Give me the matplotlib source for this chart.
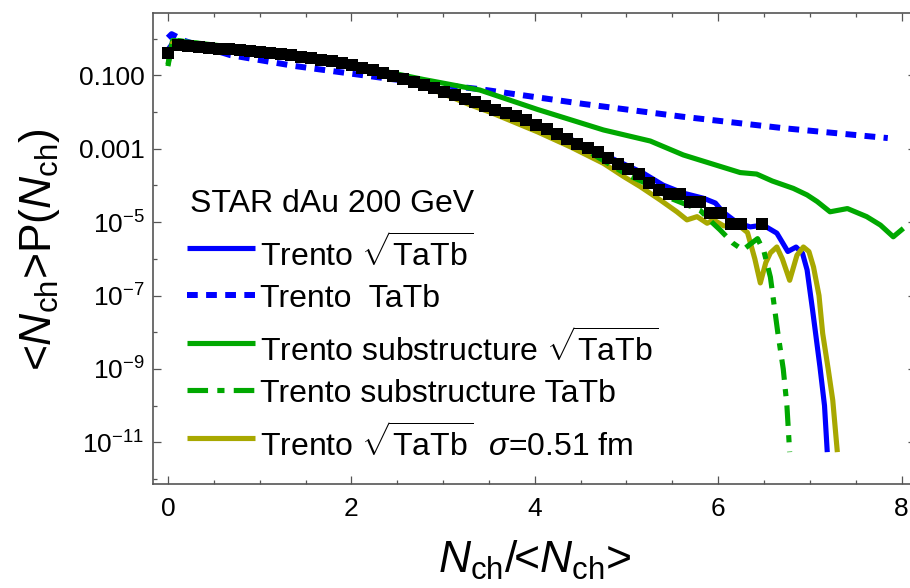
import matplotlib
matplotlib.use("Agg")
import numpy as np
import matplotlib.pyplot as plt
from matplotlib.ticker import FixedLocator, FixedFormatter, NullFormatter

plt.rcParams["font.family"] = ["Liberation Sans", "DejaVu Sans"]
plt.rcParams["mathtext.fontset"] = "custom"
plt.rcParams["mathtext.rm"] = "Liberation Sans"
plt.rcParams["mathtext.it"] = "Liberation Sans:italic"
plt.rcParams["mathtext.bf"] = "Liberation Sans:bold"

# STAR dAu 200 GeV multiplicity distribution
mean_nch = 8.96
nch_star = list(range(57)) + [58]
p_star = [0.417, 0.676, 0.631, 0.589, 0.562, 0.537, 0.513, 0.490, 0.457, 0.437,
          0.407, 0.380, 0.355, 0.324, 0.295, 0.269, 0.240, 0.214, 0.191, 0.162,
          0.138, 0.117, 0.0977, 0.0813, 0.0676, 0.0550, 0.0447, 0.0355, 0.0282, 0.0229,
          0.0186, 0.0145, 0.0117, 0.00955, 0.00759, 0.00589, 0.00447, 0.00339, 0.00251, 0.00186,
          0.00138, 0.00105, 7.9e-4, 5.5e-4, 3.8e-4, 2.75e-4, 2.0e-4, 1.17e-4, 7.6e-5, 6.0e-5,
          6.0e-5, 3.6e-5, 3.6e-5, 1.8e-5, 1.8e-5, 9.1e-6, 9.1e-6, 9.1e-6]

# Trento sqrt(TaTb)
x_sqrt = [0.00, 0.05, 0.30, 1.00, 1.50, 2.00, 2.50, 3.00, 3.50, 4.00, 4.50, 5.00, 5.18,
          5.40, 5.62, 5.84, 5.97, 6.05, 6.21, 6.35, 6.49, 6.64, 6.70, 6.76, 6.85, 6.92,
          6.97, 7.03, 7.11, 7.16, 7.19]
p_sqrt = [0.501, 0.741, 0.617, 0.427, 0.316, 0.195, 0.0912, 0.0363, 0.0138, 0.00479,
          0.00138, 3.55e-4, 2.19e-4, 1.02e-4, 6.17e-5, 4.47e-5, 3.31e-5, 1.91e-5, 9.55e-6,
          7.41e-6, 8.32e-6, 5.01e-6, 2.82e-6, 1.58e-6, 2.09e-6, 1.41e-6, 5.0e-7, 4.0e-8,
          1.15e-9, 1.0e-10, 5.4e-12]

# Trento TaTb
x_tatb = [0.00, 0.04, 0.19, 0.68, 1.39, 2.43, 3.41, 4.53, 5.62, 6.71, 7.85]
p_tatb = [1.05, 1.32, 0.85, 0.355, 0.178, 0.0794, 0.0417, 0.0166, 0.00741, 0.00363, 0.00195]

# Trento substructure sqrt(TaTb)
x_sub_sqrt = [0.00, 0.05, 0.35, 0.80, 1.34, 1.80, 2.24, 2.78, 3.40, 4.03, 4.75, 5.26, 5.62,
              5.80, 6.24, 6.42, 6.59, 6.82, 6.97, 7.08, 7.22, 7.41, 7.62, 7.77, 7.91, 8.02]
p_sub_sqrt = [0.178, 0.891, 0.741, 0.550, 0.398, 0.263, 0.148, 0.0776, 0.0398, 0.01175,
              0.00324, 0.00162, 6.76e-4, 4.90e-4, 2.24e-4, 2.04e-4, 1.32e-4, 8.3e-5, 5.5e-5,
              3.63e-5, 1.91e-5, 2.34e-5, 1.41e-5, 8.3e-6, 3.98e-6, 6.76e-6]

# Trento substructure TaTb
x_sub_tatb = [0.00, 0.05, 0.30, 0.70, 1.00, 1.50, 2.00, 2.50, 3.00, 3.50, 4.00, 4.50, 5.00,
              5.26, 5.48, 5.80, 5.93, 6.02, 6.16, 6.27, 6.35, 6.43, 6.50, 6.57, 6.65, 6.71,
              6.75, 6.78]
p_sub_tatb = [0.200, 0.933, 0.759, 0.550, 0.447, 0.316, 0.195, 0.0955, 0.0363, 0.0132,
              0.00437, 0.00112, 2.0e-4, 1.0e-4, 4.47e-5, 2.14e-5, 1.0e-5, 6.17e-6, 2.69e-6,
              1.74e-6, 2.51e-6, 3.55e-6, 1.58e-6, 3.16e-7, 1.0e-8, 1.0e-9, 1.0e-10, 5.4e-12]

# Trento sqrt(TaTb), sigma = 0.51 fm
x_sigma = [0.00, 0.05, 0.20, 0.50, 1.00, 1.50, 2.00, 2.50, 3.00, 3.30, 3.50, 4.03, 4.39,
           4.75, 4.97, 5.15, 5.37, 5.55, 5.66, 5.77, 5.88, 5.95, 6.06, 6.24, 6.32, 6.40,
           6.46, 6.52, 6.57, 6.64, 6.70, 6.78, 6.86, 6.93, 6.99, 7.04, 7.10, 7.14, 7.20,
           7.25, 7.30]
p_sigma = [0.282, 0.759, 0.676, 0.537, 0.417, 0.302, 0.191, 0.0912, 0.0316, 0.0155,
           0.0102, 0.00288, 0.00112, 3.98e-4, 1.74e-4, 9.3e-5, 3.98e-5, 1.91e-5, 1.15e-5,
           1.41e-5, 9.3e-6, 1.15e-5, 7.9e-6, 7.6e-6, 5.2e-6, 1.0e-6, 2.2e-7, 7.9e-7, 1.45e-6,
           2.1e-6, 1.0e-6, 2.6e-7, 1.26e-6, 2.1e-6, 1.58e-6, 6.0e-7, 1.0e-7, 9.3e-9, 1.0e-9,
           1.4e-10, 5.4e-12]

x_major = [0, 2, 4, 6, 8]
x_minor = [0.5, 1, 1.5, 2.5, 3, 3.5, 4.5, 5, 5.5, 6.5, 7, 7.5]
y_major = [1e-11, 1e-9, 1e-7, 1e-5, 1e-3, 1e-1]
y_labels = [r"$10^{-11}$", r"$10^{-9}$", r"$10^{-7}$", r"$10^{-5}$", "0.001", "0.100"]
y_minor = [1e-12, 1e-10, 1e-8, 1e-6, 1e-4, 1e-2, 1]

BLUE = "#0000ff"
GREEN = "#00a800"
OLIVE = "#a8a800"

fig = plt.figure(figsize=(9.1, 5.88), dpi=100)
W, H = 910.0, 588.0
ax = fig.add_axes([152.8 / W, 1 - 484.3 / H, (916.2 - 152.8) / W, (484.3 - 12.7) / H])
ax.set_yscale("log")

lw = 3.7
ax.plot(x_tatb, p_tatb, color=BLUE, lw=4.3, dashes=(1.8, 1.4), dash_capstyle="butt", zorder=2)
ax.plot(x_sub_sqrt, p_sub_sqrt, color=GREEN, lw=lw, solid_joinstyle="round",
        solid_capstyle="butt", zorder=2.1)
ax.plot(x_sqrt, p_sqrt, color=BLUE, lw=lw, solid_joinstyle="round",
        solid_capstyle="butt", zorder=2.2)
ax.plot(x_sigma, p_sigma, color=OLIVE, lw=lw, solid_joinstyle="round",
        solid_capstyle="butt", zorder=2.3)
ax.plot(x_sub_tatb, p_sub_tatb, color=GREEN, lw=lw, dashes=(4.0, 1.8, 1.4, 1.8),
        dash_capstyle="butt", zorder=2.4)
x_star = np.array(nch_star) / mean_nch
ax.plot(x_star, p_star, "s", color="black", ms=8, mew=0, zorder=3)

ax.set_xlim(-0.1655, 8.16)
ax.set_ylim(10 ** -12.144, 10 ** 0.706)

ax.xaxis.set_major_locator(FixedLocator(x_major))
ax.xaxis.set_minor_locator(FixedLocator(x_minor))
ax.yaxis.set_major_locator(FixedLocator(y_major))
ax.yaxis.set_major_formatter(FixedFormatter(y_labels))
ax.yaxis.set_minor_locator(FixedLocator(y_minor))
ax.yaxis.set_minor_formatter(NullFormatter())

frame = "#555555"
for s in ax.spines.values():
    s.set_color(frame)
    s.set_linewidth(1.2)
ax.tick_params(which="both", direction="in", top=True, right=True, color=frame, width=0.9)
ax.tick_params(which="major", length=5.8)
ax.tick_params(which="minor", length=3.2)
ax.tick_params(axis="x", which="major", labelsize=19, pad=9)
ax.tick_params(axis="y", which="major", labelsize=19, pad=6)

ax.set_ylabel(r"<$N_{\mathrm{ch}}$>P($N_{\mathrm{ch}}$)", fontsize=32)
ax.yaxis.set_label_coords(-0.119, 0.497)
ax.set_xlabel(r"$N_{\mathrm{ch}}$/<$N_{\mathrm{ch}}$>", fontsize=32)
ax.xaxis.set_label_coords(0.5, -0.116)

# legend drawn by hand in axes coordinates
tr = ax.transAxes
fs = 23
ax.text(0.0487, 0.578, "STAR dAu 200 GeV", fontsize=fs, transform=tr, va="baseline")
rows = [
    (0.501, 0.4608, dict(color=BLUE, lw=lw), r"Trento $\sqrt{\mathrm{TaTb}}$"),
    (0.401, 0.3760, dict(color=BLUE, lw=4.3, dashes=(1.8, 1.4)), "Trento  TaTb"),
    (0.2996, 0.2593, dict(color=GREEN, lw=lw), r"Trento substructure $\sqrt{\mathrm{TaTb}}$"),
    (0.2002, 0.1745, dict(color=GREEN, lw=lw, dashes=(4.0, 1.8, 1.4, 1.8)),
     "Trento substructure TaTb"),
    (0.0982, 0.0579, dict(color=OLIVE, lw=lw),
     r"Trento $\sqrt{\mathrm{TaTb}}$  $\sigma$=0.51 fm"),
]
for y_line, y_text, style, label in rows:
    ax.plot([0.0448, 0.1339], [y_line, y_line], transform=tr, solid_capstyle="butt",
            dash_capstyle="butt", zorder=4, **style)
    ax.text(0.1404, y_text, label, fontsize=fs, transform=tr, va="baseline")

fig.savefig("out.png", dpi=100)
